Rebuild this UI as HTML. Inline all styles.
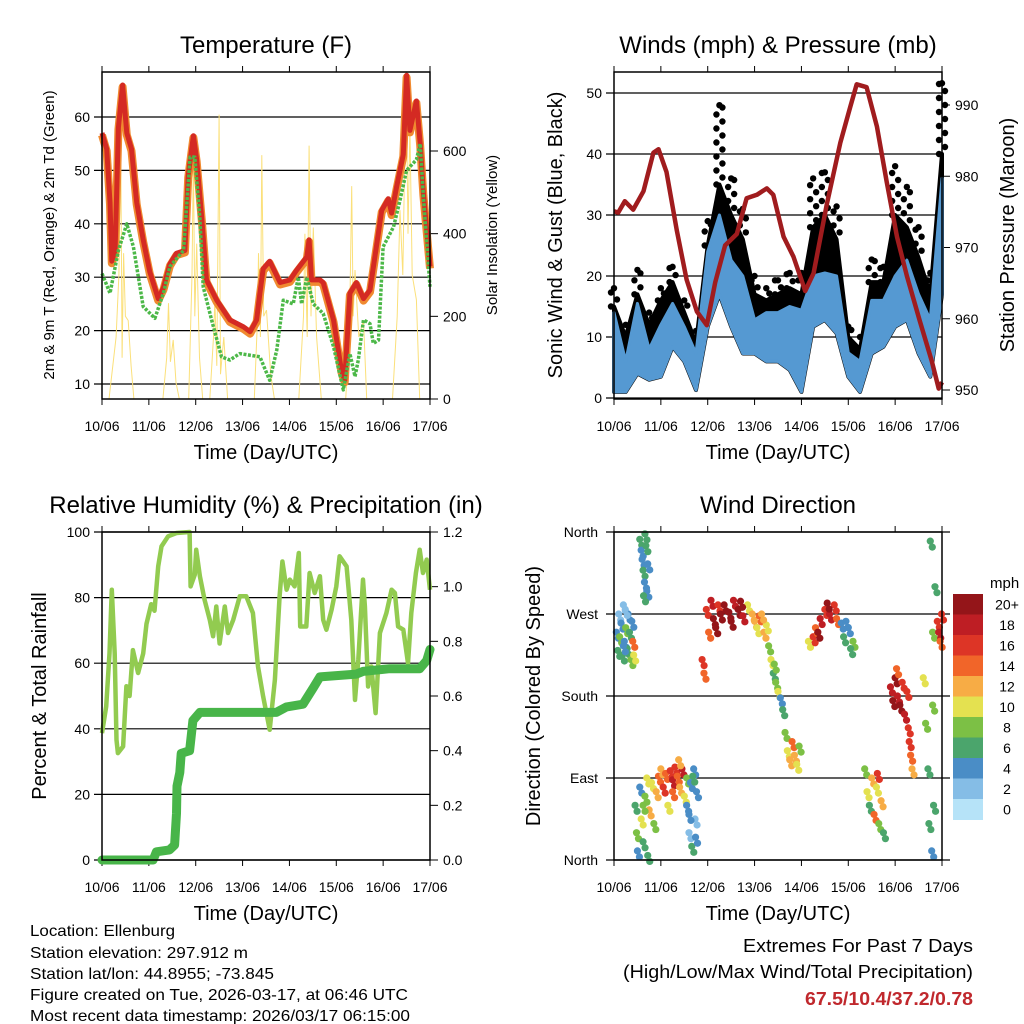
<!DOCTYPE html>
<html><head><meta charset="utf-8"><style>
html,body{margin:0;padding:0;background:#fff;}
svg{display:block;font-family:"Liberation Sans",sans-serif;}
</style></head><body>
<svg id="chart" width="1024" height="1024" viewBox="0 0 1024 1024" xmlns="http://www.w3.org/2000/svg">
<rect x="0" y="0" width="1024" height="1024" fill="#fff"/>
<g id="p1"></g>
<g id="p2"></g>
<g id="p3"></g>
<g id="p4"></g>
<g font-size="16" fill="#000">
<text x="30" y="936" textLength="145" lengthAdjust="spacingAndGlyphs">Location: Ellenburg</text>
<text x="30" y="958" textLength="218" lengthAdjust="spacingAndGlyphs">Station elevation: 297.912 m</text>
<text x="30" y="979" textLength="244" lengthAdjust="spacingAndGlyphs">Station lat/lon: 44.8955; -73.845</text>
<text x="30" y="1000" textLength="378" lengthAdjust="spacingAndGlyphs">Figure created on Tue, 2026-03-17, at 06:46 UTC</text>
<text x="30" y="1021" textLength="380" lengthAdjust="spacingAndGlyphs">Most recent data timestamp: 2026/03/17 06:15:00</text>
</g>
<g font-size="18" text-anchor="end">
<text x="973" y="952" textLength="230" lengthAdjust="spacingAndGlyphs">Extremes For Past 7 Days</text>
<text x="973" y="978" textLength="350" lengthAdjust="spacingAndGlyphs">(High/Low/Max Wind/Total Precipitation)</text>
<text x="973" y="1005" fill="#c0282d" font-weight="bold" textLength="168" lengthAdjust="spacingAndGlyphs">67.5/10.4/37.2/0.78</text>
</g>
</svg>
<script>
// ---------- DATA ----------
var dayLabels = ["10/06","11/06","12/06","13/06","14/06","15/06","16/06","17/06"];
// Temperature
var tempDays = [0,0.1,0.17,0.21,0.28,0.35,0.44,0.53,0.63,0.74,0.88,1.02,1.2,1.31,1.45,1.59,1.77,1.84,1.95,2.02,2.13,2.23,2.45,2.73,3.02,3.16,3.3,3.37,3.44,3.58,3.8,4.01,4.15,4.37,4.42,4.47,4.65,4.72,4.94,5.11,5.18,5.29,5.43,5.58,5.72,5.86,5.97,6.11,6.18,6.29,6.43,6.5,6.57,6.71,6.79,6.86,7.0];
var tempVals = [57,54,44,33,35,58,66,57,54,44,37,31,26,28,32.5,34.5,35,49,56.5,52,41,29.5,25.7,22,20.7,19.8,22,27,31.6,33,29,29.5,31.3,33.8,37,29.5,29.5,29,22,12.6,10.7,27,29,26,27.6,36,42.5,44.7,42,47,53,67.8,57.5,63,55,45.7,32];
var dewDays = [0,0.17,0.35,0.53,0.67,0.88,1.13,1.31,1.45,1.74,1.88,1.98,2.09,2.16,2.34,2.55,2.73,2.94,3.37,3.58,3.73,3.87,4.08,4.19,4.26,4.37,4.51,4.72,4.94,5.15,5.29,5.4,5.47,5.58,5.72,5.79,5.9,6.0,6.22,6.36,6.5,6.71,6.79,6.86,7.0];
var dewVals = [30.7,27,35,40,35.7,24.5,22.3,27,32,35,52.5,52.5,41,28.2,22,15.1,14.5,15.7,15.1,10.7,16.4,25.7,25,30,25,30,25,23.2,17,8.9,15.7,11.4,14.5,22,21.3,17.6,18.2,35.7,39.4,44.4,50,52,55,45,28.2];
var solarDays = [0.15,0.3,0.36,0.4,0.43,0.46,0.5,0.56,0.62,0.68,1.3,1.38,1.42,1.46,1.52,1.58,1.65,1.85,1.92,1.95,1.98,2.02,2.08,2.15,2.3,2.38,2.41,2.45,2.5,2.53,2.6,2.68,3.25,3.32,3.34,3.38,3.41,3.45,3.51,3.6,3.68,4.2,4.3,4.33,4.38,4.42,4.46,4.51,4.58,4.68,5.2,5.28,5.33,5.36,5.4,5.48,5.58,5.65,6.2,6.3,6.36,6.42,6.49,6.53,6.57,6.62,6.71,6.78];
var solarVals = [0,150,300,627,100,353,200,190,80,0,0,100,232,90,143,40,0,0,300,586,200,376,100,0,0,150,240,80,688,60,150,0,0,200,353,150,590,200,215,60,0,0,200,400,150,613,200,415,150,0,0,150,515,200,312,150,190,0,0,200,457,300,790,400,660,300,240,0];
var tempTicks = [10,20,30,40,50,60];
var solarTicks = [0,200,400,600];
// Winds
var windDays = [0,0.25,0.5,0.75,1,1.25,1.5,1.75,2,2.25,2.5,2.75,3,3.25,3.5,3.75,4,4.25,4.5,4.75,5,5.25,5.5,5.75,6,6.25,6.5,6.75,7];
var gustMax = [18,12,21,14,18,21.5,16,11,29,48,36,31,20,18,19.3,20.5,20.5,36,37,31.4,11.7,10,22.7,21.5,38,34.6,28,20.5,51.6];
var gustDense = [15,10,17,12,16,19,14,9,25,35,30,26,17,16,17,18,17,28,30,26,10,8,19,19,30,28,23,17,40];
var sonicMax = [14,6,15.5,8,12,15.5,11.7,7.3,24,30,22.6,20,12.8,14,14,15,14.4,20,20.5,20,7.4,6,16,16,20,22.6,17,12.8,36];
var sonicMin = [1,1,4,3,3.5,8.4,6,1.3,11.7,17,11.7,7.3,7.3,6,6,4.6,1,11.7,12.8,10.6,3.5,1,7.3,8.4,11.7,12.8,7.3,3.5,17];
var presDays = [0,0.09,0.23,0.41,0.63,0.84,0.95,1.12,1.34,1.55,1.77,1.98,2.16,2.37,2.62,2.83,3.05,3.26,3.4,3.62,3.83,4.08,4.26,4.54,4.83,5.04,5.18,5.39,5.61,5.82,6.04,6.25,6.53,6.78,6.93,7.0];
var presVals = [975.1,974.9,976.5,975.3,977.9,983.3,983.8,980.6,972.4,965.5,961,959.1,965.1,970.3,971.9,976.9,977.4,978.3,977.4,971.5,968.7,963.9,966.4,976,984.7,989.7,992.9,992.5,987,979.2,971.5,966,959.6,954.1,950.2,951.1];
var windTicks = [0,10,20,30,40,50];
var presTicks = [950,960,970,980,990];
// Humidity / precipitation
var rhDays = [0,0.09,0.16,0.21,0.27,0.31,0.34,0.45,0.52,0.59,0.66,0.77,0.88,0.95,1.05,1.12,1.2,1.27,1.41,1.59,1.87,1.89,1.98,2.01,2.09,2.19,2.3,2.37,2.44,2.51,2.62,2.69,2.8,2.94,3.08,3.22,3.33,3.44,3.58,3.69,3.79,3.85,3.94,4.01,4.11,4.2,4.23,4.36,4.43,4.54,4.65,4.72,4.79,4.9,5.0,5.07,5.22,5.32,5.4,5.47,5.57,5.61,5.68,5.75,5.84,5.93,6.07,6.18,6.25,6.32,6.43,6.53,6.6,6.7,6.78,6.85,6.93,7.0];
var rhVals = [38.7,46.8,63,82.4,63,36.6,32.6,34.6,53,50,64,57,63,72,78,76,89.5,95.6,98.7,99.7,100,83.4,87,94.6,86.5,79.3,73.2,68.2,77.3,66,77.3,69.2,73.2,80.4,80.4,75.3,59,49.8,39.7,55,80.4,91,82.4,85.5,83.4,93.6,71.2,71.2,87.5,81.4,86.5,73.2,70.2,76.3,83.4,92.6,89.5,73.2,48.8,61,85.5,77.3,52.9,59,44.8,69.2,75.3,82.4,81.4,71.2,70.2,60,75.3,87.5,94.6,87.5,91.6,82.4];
var precipDays = [0,1.09,1.16,1.44,1.55,1.59,1.6,1.66,1.69,1.87,1.94,2.09,3.72,3.94,4.29,4.51,4.65,5.43,5.57,6.14,6.78,6.93,7.0];
var precipVals = [0,0,0.03,0.037,0.055,0.17,0.27,0.32,0.39,0.4,0.51,0.54,0.54,0.56,0.57,0.63,0.67,0.68,0.69,0.7,0.7,0.73,0.77];
var rhTicks = [0,20,40,60,80,100];
var precipTicks = [0.0,0.2,0.4,0.6,0.8,1.0,1.2];
// Wind direction [day, deg, mph]
var dirPoints = [[0.05,250,4],[0.08,230,6],[0.1,270,2],[0.12,245,8],[0.15,260,4],[0.18,225,6],[0.2,280,2],[0.22,240,4],[0.25,255,8],[0.28,232,6],[0.3,270,4],[0.33,250,6],[0.36,220,8],[0.38,262,4],[0.2,235,4],[0.24,275,2],[0.4,240,14],[0.42,225,10],
[0.55,352,6],[0.58,340,4],[0.6,330,4],[0.62,318,6],[0.65,305,4],[0.68,345,6],[0.7,295,4],[0.72,325,4],[0.66,358,6],[0.63,290,6],
[0.45,60,6],[0.48,30,8],[0.5,10,4],[0.55,80,4],[0.58,45,10],[0.62,20,6],[0.66,70,8],[0.7,90,10],[0.75,55,12],[0.8,85,10],[0.85,40,8],[0.9,75,12],[0.95,92,14],[1.0,100,12],[1.05,80,16],[1.1,95,14],[1.15,60,10],[0.72,5,6],[0.62,60,8],
[1.2,98,16],[1.25,88,18],[1.3,102,16],[1.35,92,14],[1.4,80,12],[1.45,100,18],[1.5,70,10],[1.55,90,8],[1.25,75,14],[1.38,110,12],
[1.55,60,4],[1.6,30,2],[1.63,85,4],[1.66,15,6],[1.7,100,4],[1.73,45,2],[1.76,75,4],[1.6,50,4],[1.68,92,6],[1.74,25,4],
[1.88,220,16],[1.92,205,14],[1.97,275,16],[2.02,250,14],[2.07,285,18],[2.12,265,20],[2.17,255,20],[2.22,280,16],[2.27,270,20],
[2.35,280,20],[2.45,272,20],[2.55,285,18],[2.65,275,20],[2.75,268,18],[2.85,280,10],[2.95,270,12],[2.5,262,20],[2.7,284,20],
[3.0,262,12],[3.05,255,10],[3.1,268,14],[3.2,250,12],[3.25,258,10],[3.15,270,12],
[3.3,235,8],[3.35,220,10],[3.4,205,6],[3.45,195,8],[3.5,185,10],[3.55,178,4],[3.42,215,8],
[3.6,165,6],[3.65,140,8],[3.7,120,10],[3.75,110,12],[3.8,130,14],[3.85,115,12],[3.9,105,10],[3.95,125,8],
[4.15,240,10],[4.25,245,16],[4.3,255,14],[4.4,265,18],[4.5,275,16],[4.6,270,18],[4.7,280,16],[4.75,265,14],[4.35,250,20],[4.55,282,20],
[4.85,260,4],[4.9,245,6],[5.0,255,4],[5.1,240,8],[5.05,232,6],[4.95,262,4],
[5.35,100,8],[5.4,75,10],[5.45,60,6],[5.5,90,12],[5.55,50,14],[5.6,80,10],[5.65,40,8],[5.7,65,12],[5.75,30,6],[5.62,95,16],
[5.9,190,18],[5.95,175,20],[6.0,200,20],[6.05,180,18],[6.1,170,20],[6.15,195,16],[6.2,160,18],[6.25,185,16],[6.03,210,14],
[6.3,130,16],[6.33,115,14],[6.36,100,12],[6.28,145,16],
[6.6,200,10],[6.65,150,8],[6.7,100,6],[6.72,40,6],[6.75,350,6],[6.78,10,4],[6.8,250,8],[6.85,300,6],[6.82,60,6],[6.8,170,8],
[6.9,262,16],[6.93,250,18],[6.96,240,14],[6.99,270,16]];
var dirTicks = [0,90,180,270,360];
var dirLabels = ["North","East","South","West","North"];
var speedLevels = ["0","2","4","6","8","10","12","14","16","18","20+"];
var speedColors = ["#b6e3f8","#85bde6","#4a8dc6","#4ba56c","#7cc045","#e4e150","#f7ac45","#f16529","#dd3526","#be1e24","#941519"];

// ---------- HELPERS ----------
var NS = "http://www.w3.org/2000/svg";
function mk(parent, tag, attrs, text) {
  var e = document.createElementNS(NS, tag);
  for (var k in attrs) e.setAttribute(k, attrs[k]);
  if (text !== undefined) e.textContent = text;
  parent.appendChild(e);
  return e;
}
function lin(d0, d1, r0, r1) { return function (v) { return r0 + (v - d0) / (d1 - d0) * (r1 - r0); }; }
function pathFrom(xs, ys, fx, fy) {
  var s = "";
  for (var i = 0; i < xs.length; i++) s += (i ? "L" : "M") + fx(xs[i]).toFixed(1) + "," + fy(ys[i]).toFixed(1);
  return s;
}
function frame(g, L, T, R, B, title, titleX) {
  var t = mk(g, "text", {x: titleX, y: T - 19, "font-size": 24, "text-anchor": "middle"}, title);
  
  
  var xt = mk(g, "text", {x: (L + R) / 2, y: B + 60, "font-size": 20, "text-anchor": "middle"}, "Time (Day/UTC)");
  
  
  var fx = lin(0, 7, L, R);
  for (var i = 0; i < dayLabels.length; i++) {
    var x = fx(i);
    var tk = mk(g, "line", {x1: x, x2: x, y1: B, y2: B + 6, stroke: "#000", "stroke-width": 1});
    
    
    mk(g, "line", {x1: x, x2: x, y1: T, y2: T - 6, stroke: "#000", "stroke-width": 1});
    var lb = mk(g, "text", {x: x, y: B + 32, "font-size": 14, "text-anchor": "middle"}, dayLabels[i]);
    
    
  }
  return fx;
}
function border(g, L, T, R, B) {
  var r = mk(g, "rect", {x: L, y: T, width: R - L, height: B - T, fill: "none", stroke: "#000", "stroke-width": 1.5});
  
  
}
function leftAxis(g, L, R, ticks, fy, fmt, grid) {
  for (var i = 0; i < ticks.length; i++) {
    var y = fy(ticks[i]);
    if (grid) mk(g, "line", {x1: L - 8, x2: R, y1: y, y2: y, stroke: "#000", "stroke-width": 1.2});
    else mk(g, "line", {x1: L - 8, x2: L, y1: y, y2: y, stroke: "#000", "stroke-width": 1});
    var lb = mk(g, "text", {x: L - 12, y: y + 5, "font-size": 14, "text-anchor": "end"}, fmt(ticks[i]));
    
    
  }
}
function rightAxis(g, R, ticks, fy, fmt) {
  for (var i = 0; i < ticks.length; i++) {
    var y = fy(ticks[i]);
    mk(g, "line", {x1: R, x2: R + 8, y1: y, y2: y, stroke: "#000", "stroke-width": 1});
    var lb = mk(g, "text", {x: R + 13, y: y + 5, "font-size": 14, "text-anchor": "start"}, fmt(ticks[i]));
    
    
  }
}
function vTitle(g, x, y, size, text, name) {
  var t = mk(g, "text", {x: x, y: y, "font-size": size, "text-anchor": "middle", transform: "rotate(-90 " + x + " " + y + ")"}, text);
  
  
}
function id(v) { return String(v); }

// ---------- PANEL 1: TEMPERATURE ----------
(function () {
  var g = document.getElementById("p1");
  var L = 102, T = 72, R = 430, B = 399;
  var fx = frame(g, L, T, R, B, "Temperature (F)", 266);
  var fy = lin(10, 60, 384, 117);
  var fs = lin(0, 600, 399, 151);
  leftAxis(g, L, R, tempTicks, fy, id, true);
  rightAxis(g, R, solarTicks, fs, id);
  vTitle(g, 54, 235, 15, "2m & 9m T (Red, Orange) & 2m Td (Green)", "left-axis-title");
  vTitle(g, 497, 235, 15, "Solar Insolation (Yellow)", "right-axis-title");
  var cp = mk(g, "clipPath", {id: "c1"}); mk(cp, "rect", {x: L, y: T, width: R - L, height: B - T});
  var s = mk(g, "path", {d: pathFrom(solarDays, solarVals, fx, fs), fill: "none", stroke: "#fbe07a", "stroke-width": 1, "clip-path": "url(#c1)"});
  
  
  var o = mk(g, "path", {d: pathFrom(tempDays, tempVals, fx, fy), fill: "none", stroke: "#f08a30", "stroke-width": 8, "stroke-linejoin": "round", transform: "translate(0,2)"});
  
  
  var r = mk(g, "path", {d: pathFrom(tempDays, tempVals, fx, fy), fill: "none", stroke: "#d42a23", "stroke-width": 5, "stroke-linejoin": "round"});
  
  
  var d = mk(g, "path", {d: pathFrom(dewDays, dewVals, fx, fy), fill: "none", stroke: "#4cb848", "stroke-width": 3.5, "stroke-dasharray": "3 1.5", "stroke-linejoin": "round"});
  
  
  border(g, L, T, R, B);
})();

// ---------- PANEL 2: WINDS ----------
(function () {
  var g = document.getElementById("p2");
  var L = 614, T = 72, R = 942, B = 399;
  var fx = frame(g, L, T, R, B, "Winds (mph) & Pressure (mb)", 778);
  var fy = lin(0, 50, 398, 93);
  var fp = lin(950, 990, 390, 105);
  leftAxis(g, L, R, windTicks, fy, id, true);
  rightAxis(g, R, presTicks, fp, id);
  vTitle(g, 562, 235, 20, "Sonic Wind & Gust (Blue, Black)", "left-axis-title");
  vTitle(g, 1014, 235, 20, "Station Pressure (Maroon)", "right-axis-title");
  var top = "", i;
  for (i = 0; i < windDays.length; i++) top += (i ? "L" : "M") + fx(windDays[i]) + "," + fy(gustDense[i]);
  for (i = windDays.length - 1; i >= 0; i--) top += "L" + fx(windDays[i]) + "," + fy(sonicMin[i]);
  var ga = mk(g, "path", {d: top + "Z", fill: "#000", stroke: "#000", "stroke-width": 4, "stroke-linejoin": "round"});
  
  
  for (i = 0; i < windDays.length; i++) {
    var y0 = fy(gustDense[i]), y1 = fy(gustMax[i]);
    for (var yy = y0; yy >= y1 - 0.1; yy -= 7) {
      var c = mk(g, "circle", {cx: fx(windDays[i]) + ((Math.round((y0 - yy) / 7) % 2) ? 3 : -3), cy: yy, r: 3.2, fill: "#000"});
      
      
    }
    var cm = mk(g, "circle", {cx: fx(windDays[i]), cy: y1, r: 3.2, fill: "#000"});
    
    
  }
  var bl = "";
  for (i = 0; i < windDays.length; i++) bl += (i ? "L" : "M") + fx(windDays[i]) + "," + fy(sonicMax[i]);
  for (i = windDays.length - 1; i >= 0; i--) bl += "L" + fx(windDays[i]) + "," + fy(sonicMin[i]);
  var ba = mk(g, "path", {d: bl + "Z", fill: "#5599d2", stroke: "#5599d2", "stroke-width": 3, "stroke-linejoin": "round"});
  
  
  var p = mk(g, "path", {d: pathFrom(presDays, presVals, fx, fp), fill: "none", stroke: "#a01c1e", "stroke-width": 4.5, "stroke-linejoin": "round"});
  
  
  border(g, L, T, R, B);
})();

// ---------- PANEL 3: HUMIDITY ----------
(function () {
  var g = document.getElementById("p3");
  var L = 102, T = 532, R = 430, B = 860;
  var fx = frame(g, L, T, R, B, "Relative Humidity (%) & Precipitation (in)", 266);
  var fy = lin(0, 100, 860, 532);
  var fq = lin(0, 1.2, 860, 532);
  leftAxis(g, L, R, rhTicks, fy, id, true);
  rightAxis(g, R, precipTicks, fq, function (v) { return v.toFixed(1); });
  vTitle(g, 46, 696, 20, "Percent & Total Rainfall", "left-axis-title");
  var h = mk(g, "path", {d: pathFrom(rhDays, rhVals, fx, fy), fill: "none", stroke: "#92cb50", "stroke-width": 4.5, "stroke-linejoin": "round"});
  
  
  var q = mk(g, "path", {d: pathFrom(precipDays, precipVals, fx, fq), fill: "none", stroke: "#48b549", "stroke-width": 9, "stroke-linejoin": "round", "stroke-linecap": "round"});
  
  
  border(g, L, T, R, B);
})();

// ---------- PANEL 4: WIND DIRECTION ----------
(function () {
  var g = document.getElementById("p4");
  var L = 614, T = 532, R = 942, B = 860;
  var fx = frame(g, L, T, R, B, "Wind Direction", 778);
  var fy = lin(0, 360, 860, 532);
  for (var i = 0; i < dirTicks.length; i++) {
    var y = fy(dirTicks[i]);
    mk(g, "line", {x1: L - 8, x2: R + 8, y1: y, y2: y, stroke: "#000", "stroke-width": 1.2});
    var lb = mk(g, "text", {x: L - 16, y: y + 5, "font-size": 14, "text-anchor": "end"}, dirLabels[i]);
    
    
  }
  vTitle(g, 540, 696, 20, "Direction (Colored By Speed)", "left-axis-title");
  for (var j = 0; j < dirPoints.length; j++) {
    var pt = dirPoints[j];
    var ci = Math.min(10, Math.max(0, Math.round(pt[2] / 2)));
    var c = mk(g, "circle", {cx: fx(pt[0]), cy: fy(pt[1]), r: 3.6, fill: speedColors[ci]});
    
    
    var c2 = mk(g, "circle", {cx: fx(pt[0]) + 2, cy: fy(pt[1]) + 6, r: 3.6, fill: speedColors[ci]});
    
    
  }
  border(g, L, T, R, B);
  var lg = mk(g, "g", {});
  
  
  var u = mk(lg, "text", {x: 990, y: 588, "font-size": 15}, "mph");
  
  
  var bh = 20.5;
  for (var k = 0; k < speedLevels.length; k++) {
    var idx = speedLevels.length - 1 - k;
    var yy = 594 + k * bh;
    var b = mk(lg, "rect", {x: 953, y: yy, width: 30, height: bh + 0.5, fill: speedColors[idx]});
    
    
    var t = mk(lg, "text", {x: 1007, y: yy + bh / 2 + 5, "font-size": 14, "text-anchor": "middle"}, speedLevels[idx]);
    
    
  }
})();
</script>
</body></html>
